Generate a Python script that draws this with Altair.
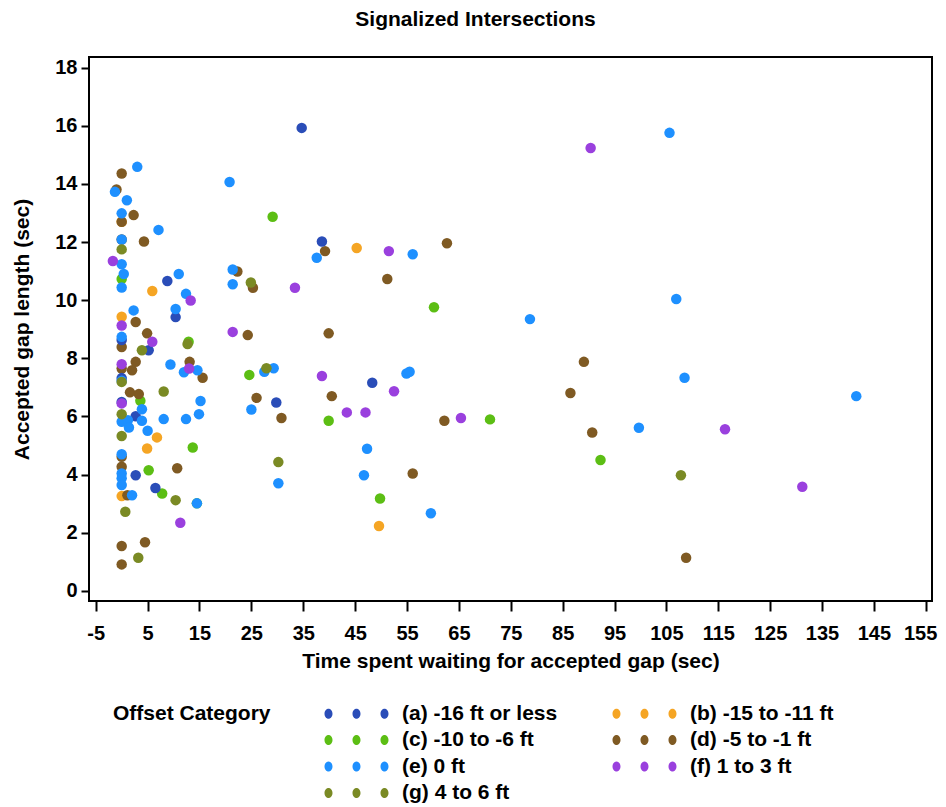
import altair as alt
import pandas as pd

categories = ["(a) -16 ft or less", "(b) -15 to -11 ft", "(c) -10 to -6 ft",
              "(d) -5 to -1 ft", "(e) 0 ft", "(f) 1 to 3 ft", "(g) 4 to 6 ft"]
colors = ["#2A4DB8", "#F5A524", "#5CBE14", "#7F5A23", "#1E90FF", "#9A40DE", "#7A8A24"]

a_x = [34.7, 8.8, 10.4, 0.0, 5.2, 0.0, 0.0, 2.7, 2.7, 6.5, 38.6, 48.3, 29.8]
a_y = [15.93, 10.66, 9.42, 8.63, 8.28, 7.32, 6.5, 6.01, 3.98, 3.54, 12.02, 7.16, 6.48]

b_x = [5.9, 0.0, 0.0, 6.8, 4.9, 0.0, 45.3, 49.6]
b_y = [10.32, 12.7, 9.43, 5.28, 4.9, 3.26, 11.8, 2.23]

c_x = [0.0, 12.9, 3.6, 5.2, 7.8, 13.7, 14.5, 29.1, 24.6, 39.9, 60.2, 49.8, 71.0, 92.3]
c_y = [10.73, 8.57, 6.54, 4.15, 3.35, 4.93, 3.01, 12.87, 7.43, 5.85, 9.76, 3.18, 5.9, 4.5]

d_x = [0.0, -1.0, 2.3, 0.0, 0.0, 4.3, 2.7, 4.9, 0.0, 2.7, 0.0, 2.0, 13.1, 15.6, 1.6,
       3.3, 0.0, 0.0, 10.7, 1.1, 4.5, 0.0, 0.0, 22.3, 25.3, 24.3, 39.9, 39.2, 62.7,
       51.2, 26.0, 30.8, 40.5, 62.2, 56.1, 89.1, 86.5, 90.7, 108.8]
d_y = [14.36, 13.81, 12.93, 12.7, 12.09, 12.02, 9.25, 8.86, 8.39, 7.88, 7.65, 7.59,
       7.88, 7.33, 6.83, 6.77, 4.61, 4.27, 4.22, 3.29, 1.67, 1.54, 0.91, 10.99, 10.43,
       8.8, 8.86, 11.69, 11.96, 10.73, 6.64, 5.95, 6.7, 5.85, 4.04, 7.88, 6.81, 5.45, 1.14]

e_x = [3.0, -1.3, 1.0, 0.0, 7.1, 0.0, 0.0, 0.4, 0.0, 11.0, 12.4, 2.3, 10.4, 0.0, 9.4,
       12.0, 14.6, 0.0, 15.2, 3.9, 0.0, 1.2, 1.4, 3.9, 8.1, 12.4, 14.9, 5.0, 0.0, 0.0,
       0.0, 0.0, 2.0, 14.5, 20.8, 21.4, 21.4, 37.6, 56.1, 27.5, 29.3, 25.0, 54.9, 55.5,
       47.3, 46.7, 30.2, 59.6, 105.6, 106.9, 78.7, 108.5, 99.7, 141.6]
e_y = [14.59, 13.73, 13.44, 12.99, 12.42, 12.09, 11.24, 10.9, 10.44, 10.9, 10.22, 9.65,
       9.7, 8.74, 7.79, 7.52, 7.59, 7.23, 6.53, 6.25, 5.82, 5.87, 5.62, 5.85, 5.91, 5.91,
       6.08, 5.51, 4.7, 4.04, 3.87, 3.64, 3.29, 3.01, 14.07, 11.06, 10.55, 11.46, 11.58,
       7.54, 7.66, 6.24, 7.48, 7.54, 4.89, 3.98, 3.7, 2.67, 15.76, 10.04, 9.35, 7.33,
       5.61, 6.7]

f_x = [-1.7, 0.0, 0.0, 0.0, 5.9, 13.3, 13.0, 11.3, 51.5, 33.4, 21.4, 38.6, 52.5, 43.4,
       47.0, 65.4, 90.4, 116.3, 131.2]
f_y = [11.35, 9.13, 7.8, 6.45, 8.57, 9.99, 7.65, 2.34, 11.69, 10.43, 8.91, 7.39, 6.87,
       6.14, 6.14, 5.95, 15.24, 5.56, 3.58]

g_x = [0.0, 3.9, 12.7, 0.0, 8.1, 0.0, 0.0, 10.4, 0.7, 3.2, 24.9, 27.9, 30.2, 107.8]
g_y = [11.75, 8.28, 8.49, 7.19, 6.86, 6.08, 5.33, 3.12, 2.72, 1.14, 10.61, 7.66, 4.43, 3.98]

x_ticks = list(range(-5, 156, 10))
y_ticks = list(range(0, 19, 2))

series = {
    categories[1]: (b_x, b_y),
    categories[2]: (c_x, c_y),
    categories[3]: (d_x, d_y),
    categories[0]: (a_x, a_y),
    categories[4]: (e_x, e_y),
    categories[5]: (f_x, f_y),
    categories[6]: (g_x, g_y),
}
rows = []
for cat, (xs, ys) in series.items():
    for xv, yv in zip(xs, ys):
        rows.append({"wait": xv, "gap": yv, "cat": cat})
df = pd.DataFrame(rows)

# legend fills column by column: order so that rows read (a,b) (c,d) (e,f) (g)
legend_order = [0, 2, 4, 6, 1, 3, 5]
dom = [categories[i] for i in legend_order]
rng = [colors[i] for i in legend_order]


def ellipse(cx, rx, ry):
    k = 0.5523
    return (f"M{cx+rx},0 C{cx+rx},{k*ry} {cx+k*rx},{ry} {cx},{ry} "
            f"C{cx-k*rx},{ry} {cx-rx},{k*ry} {cx-rx},0 "
            f"C{cx-rx},{-k*ry} {cx-k*rx},{-ry} {cx},{-ry} "
            f"C{cx+k*rx},{-ry} {cx+rx},{-k*ry} {cx+rx},0 Z")


three_dots = " ".join(ellipse(c, 0.8, 1.0) for c in (0, 5.6, 11.2))

FONT = "Liberation Sans"
label_expr = "datum.value < 0 ? '-' + abs(datum.value) : '' + datum.value"

chart = alt.Chart(df).mark_circle(size=110, opacity=1).encode(
    x=alt.X("wait:Q",
            scale=alt.Scale(domain=[-6.3, 156.2], nice=False, zero=False),
            axis=alt.Axis(values=x_ticks, title="Time spent waiting for accepted gap (sec)",
                          labelExpr=label_expr,
                          grid=False, domain=False, tickSize=10, tickWidth=2,
                          tickColor="black", labelPadding=12, titlePadding=7,
                          labelFlush=6.5, labelFlushOffset=11,
                          labelOverlap=False)),
    y=alt.Y("gap:Q",
            scale=alt.Scale(domain=[-0.35, 18.37], nice=False, zero=False),
            axis=alt.Axis(values=y_ticks, title="Accepted gap length (sec)",
                          grid=False, domain=False, tickSize=8, tickWidth=2,
                          tickColor="black", labelPadding=4, titlePadding=22,
                          labelFlush=False, labelOverlap=False)),
    color=alt.Color("cat:N",
                    scale=alt.Scale(domain=dom, range=rng),
                    legend=alt.Legend(title="Offset Category", orient="none",
                                      legendX=24, legendY=646,
                                      titleOrient="left", titleAnchor="start",
                                      columns=2,
                                      columnPadding=48, rowPadding=4.5,
                                      symbolType=three_dots, symbolSize=100,
                                      symbolStrokeWidth=0, symbolOpacity=1,
                                      labelOffset=63, labelLimit=400,
                                      labelFont=FONT, labelFontSize=21,
                                      labelFontWeight="bold", labelColor="black",
                                      titleFont=FONT, titleFontSize=21,
                                      titleFontWeight="bold", titleColor="black",
                                      titlePadding=47, padding=0)),
).properties(
    width=843, height=544,
    title=alt.TitleParams("Signalized Intersections", font=FONT, fontSize=21,
                          fontWeight="bold", color="black", anchor="middle",
                          frame="group", dx=-35, offset=27),
    autosize=alt.AutoSizeParams(type="none"),
    padding={"left": 81, "top": 49, "right": 6, "bottom": 202},
).configure_view(
    stroke="black", strokeWidth=2
).configure_axis(
    labelFont=FONT, labelFontSize=20, labelFontWeight="bold", labelColor="black",
    titleFont=FONT, titleFontSize=21, titleFontWeight="bold", titleColor="black",
)

chart.save("out.html", embed_options={"renderer": "svg", "actions": False})
